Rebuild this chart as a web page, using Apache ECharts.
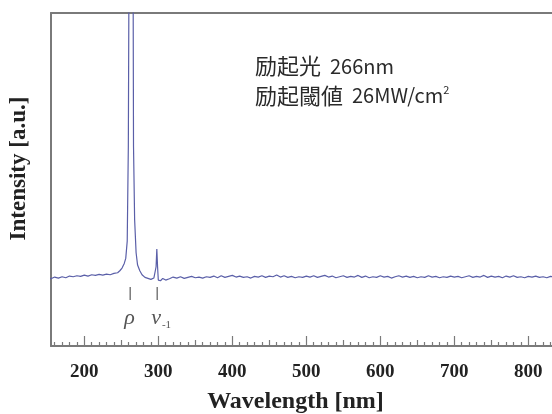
<!DOCTYPE html>
<html>
<head>
<meta charset="utf-8">
<script src="https://cdn.jsdelivr.net/npm/echarts@6/dist/echarts.min.js"></script>
<style>html,body{margin:0;padding:0;background:#fff}#c{width:552px;height:414px}</style>
</head>
<body>
<div id="c"></div>
<script>
// Wavelength (nm)
const wavelengths = [150,155,160,165,170,175,180,185,190,195,200,205,210,215,220,225,230,235,240,245,
  248,251,254,256,258,259.5,261,263,265,266.5,268,270,272,275,278,282,286,290,294,296,297,298,299,300,303,306,310,
  315,320,325,330,335,340,345,350,355,360,365,370,375,380,385,390,395,400,405,410,415,420,425,430,435,440,445,450,
  455,460,465,470,475,480,485,490,495,500,505,510,515,520,525,530,535,540,545,550,555,560,565,570,575,580,585,590,
  595,600,605,610,615,620,625,630,635,640,645,650,655,660,665,670,675,680,685,690,695,700,705,710,715,720,725,730,
  735,740,745,750,755,760,765,770,775,780,785,790,795,800,805,810,815,820,825,830,835];
// Intensity (a.u., 0-100 of the visible axis)
const intensity = [20.6,20.2,20.7,20.4,20.8,20.5,21.0,20.8,21.1,20.9,21.3,21.0,21.4,21.2,21.5,21.3,21.6,21.4,21.8,22.0,
  22.6,23.4,24.8,26.3,31.5,60,150,300,200,60,38,28,24.3,22.6,21.4,20.6,20.3,20.0,20.4,20.2,23.8,29.1,23.8,19.8,19.6,20.3,19.8,
  20.2,20.7,20.4,20.8,20.3,20.6,20.9,20.5,20.7,20.4,20.8,20.6,21.0,20.5,21.1,20.6,20.9,21.2,20.7,21.0,20.6,20.8,20.4,20.9,
  20.7,21.1,20.6,21.0,20.8,21.3,20.7,21.1,20.6,20.9,20.5,20.8,20.6,21.0,20.7,21.1,20.6,20.9,21.2,20.7,21.0,20.5,20.8,21.1,
  20.6,20.9,20.7,21.2,20.6,21.0,20.5,20.8,20.6,21.1,20.7,20.9,20.4,20.8,21.1,20.7,21.0,20.6,20.9,20.5,20.8,20.6,21.1,20.7,
  20.9,20.5,20.8,20.6,21.0,20.7,20.9,20.5,20.8,21.1,20.6,20.9,20.7,21.2,20.6,21.0,20.7,20.9,20.5,21.0,20.7,21.1,20.6,20.8,
  20.5,20.9,20.7,21.0,20.6,20.8,20.5,20.9,20.7];
// Peak annotations
const peakPositions = [262, 298.5];
const peakLabels = ['{i|ρ}', '{i|ν}{s|-1}'];
// Axis ticks
const majorTicks = [200,300,400,500,600,700,800];
const midTicks = [250,350,450,550,650,750];
const minorTicks = [160,170,180,190,210,220,230,240,260,270,280,290,310,320,330,340,360,370,380,390,410,420,430,440,
  460,470,480,490,510,520,530,540,560,570,580,590,610,620,630,640,660,670,680,690,710,720,730,740,760,770,780,790,810,820,830];

const lineData = wavelengths.map((w, i) => [w, intensity[i]]);
const annData = peakPositions.map((p, i) => [p, i]);

const serif = '"Liberation Serif","DejaVu Serif",serif';
const cjk = '"Noto Sans CJK JP"';
const axisColor = '#7a7a7a';
const xMin = 155, xMax = 832;

function tickAxis(values, len) {
  return {
    type: 'value', min: xMin, max: xMax, gridIndex: 0, position: 'bottom', offset: 0,
    axisLine: {show: false},
    axisTick: {show: true, inside: true, length: len, customValues: values, lineStyle: {color: axisColor, width: 1.2}},
    axisLabel: {show: false}, splitLine: {show: false}
  };
}

const chart = echarts.init(document.getElementById('c'), null, {renderer: 'canvas'});
chart.setOption({
  animation: false,
  backgroundColor: '#fff',
  grid: {left: 51, top: 13, right: 0, bottom: 68, containLabel: false, outerBoundsMode: 'none'},
  xAxis: [
    {
      type: 'value', min: xMin, max: xMax, position: 'bottom',
      name: 'Wavelength [nm]', nameLocation: 'middle', nameGap: 44,
      nameTextStyle: {fontFamily: serif, fontWeight: 'bold', fontSize: 24, color: '#222', padding: [0, 12, 0, 0]},
      axisLine: {show: true, lineStyle: {color: axisColor, width: 2}},
      axisTick: {show: true, inside: true, length: 10, customValues: majorTicks, lineStyle: {color: axisColor, width: 1.2}},
      axisLabel: {show: true, customValues: majorTicks, margin: 17, fontFamily: serif, fontWeight: 'bold', fontSize: 19, color: '#222'},
      splitLine: {show: false}
    },
    tickAxis(midTicks, 6),
    tickAxis(minorTicks, 4),
    {
      type: 'value', min: xMin, max: xMax, position: 'top',
      axisLine: {show: true, lineStyle: {color: axisColor, width: 2}},
      axisTick: {show: false}, axisLabel: {show: false}, splitLine: {show: false}
    }
  ],
  yAxis: {
    type: 'value', min: 0, max: 100,
    name: 'Intensity [a.u.]', nameLocation: 'middle', nameGap: 20,
    nameTextStyle: {fontFamily: serif, fontWeight: 'bold', fontSize: 23, color: '#222', padding: [0, 0, 0, 22]},
    axisLine: {show: true, lineStyle: {color: axisColor, width: 2}},
    axisTick: {show: false}, axisLabel: {show: false}, splitLine: {show: false}
  },
  series: [
    {
      type: 'line', data: lineData, showSymbol: false, clip: true,
      lineStyle: {color: '#5a5fa8', width: 1.2}, z: 3
    },
    {
      type: 'custom', data: annData, clip: false, z: 4,
      renderItem: function (params, api) {
        const x = api.value(0);
        const idx = api.value(1);
        const top = api.coord([x, 17.7]);
        const bot = api.coord([x, 13.8]);
        const lab = api.coord([x, 8.3]);
        return {
          type: 'group',
          children: [
            {type: 'line', shape: {x1: top[0], y1: top[1], x2: bot[0], y2: bot[1]}, style: {stroke: '#666', lineWidth: 1.3}},
            {type: 'text', x: lab[0] - 6, y: lab[1], style: {
              text: peakLabels[idx], align: 'left', verticalAlign: 'middle',
              rich: {
                i: {fontFamily: serif, fontStyle: 'italic', fontSize: 22, fill: '#555', color: '#555'},
                s: {fontFamily: serif, fontSize: 11, fill: '#555', color: '#555', padding: [14, 0, 0, 1]}
              }
            }}
          ]
        };
      }
    }
  ],
  graphic: [
    {type: 'text', left: 255, top: 55, style: {
      text: '{c|励起光}{a|  266nm}', fill: '#2a2a2a',
      rich: {c: {fontFamily: cjk, fontSize: 22, fill: '#2a2a2a'}, a: {fontFamily: cjk, fontSize: 20, fill: '#2a2a2a'}}}},
    {type: 'text', left: 255, top: 84, style: {
      text: '{c|励起閾値}{a|  26MW/cm}{s|2}', fill: '#2a2a2a',
      rich: {c: {fontFamily: cjk, fontSize: 22, fill: '#2a2a2a'}, a: {fontFamily: cjk, fontSize: 20, fill: '#2a2a2a'},
        s: {fontSize: 11, fontFamily: cjk, fill: '#2a2a2a', padding: [0, 0, 12, 0]}}}}
  ]
});
</script>
</body>
</html>
